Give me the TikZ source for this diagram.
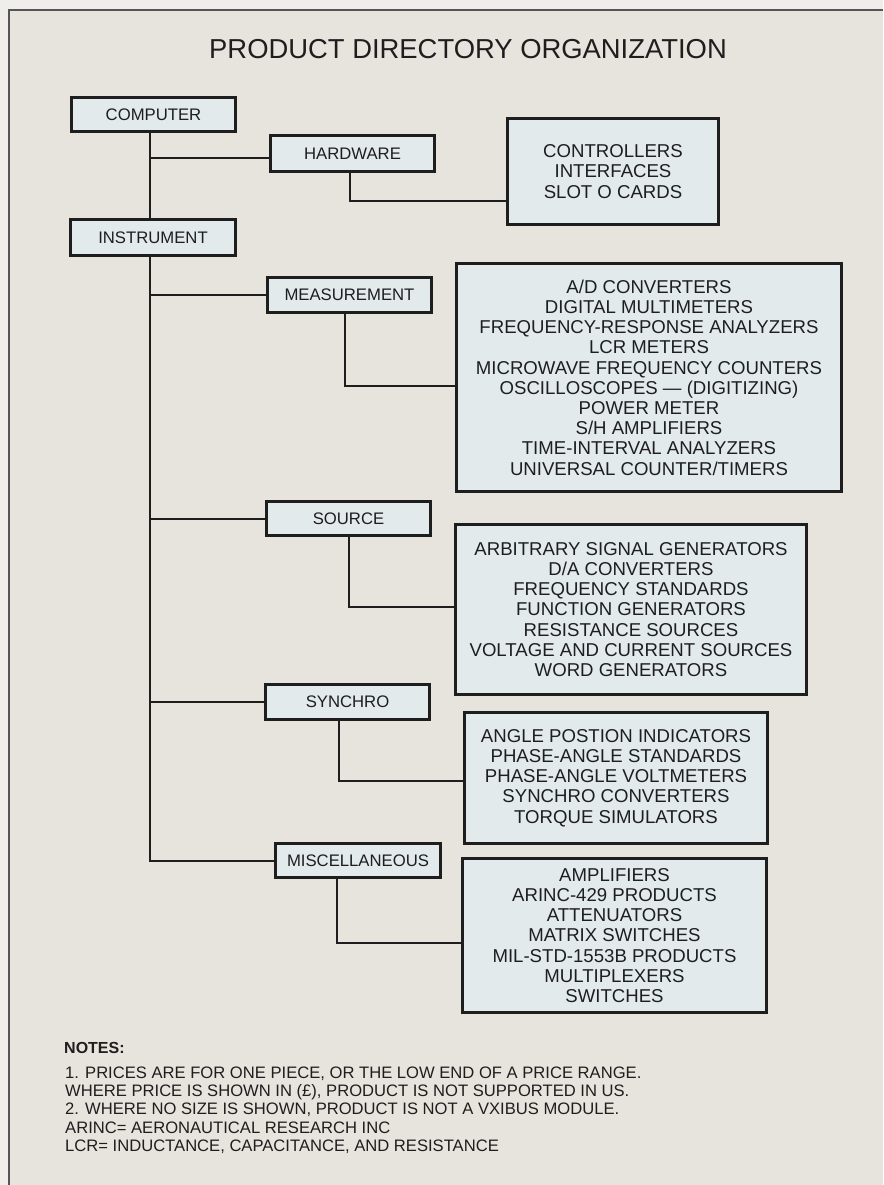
\documentclass[tikz,border=0pt]{standalone}
\usepackage{fontspec}
\setmainfont{Liberation Sans}
\definecolor{pagebg}{HTML}{F0EEEA}
\definecolor{panelbg}{HTML}{E7E4DE}
\definecolor{boxfill}{HTML}{E3EAEC}
\definecolor{ink}{HTML}{1E1E1E}
\definecolor{framec}{HTML}{555555}
\begin{document}
\begin{tikzpicture}[x=1pt,y=-1pt,
  cat/.style={draw=ink, line width=3.2pt, fill=boxfill, minimum width=164pt, minimum height=35pt, inner sep=0pt, font=\fontsize{16.7}{18}\selectfont, text=ink},
  list/.style={draw=ink, line width=3.2pt, fill=boxfill, inner sep=0pt, align=center, font=\fontsize{18.6}{20.2}\selectfont, text=ink},
  link/.style={draw=ink, line width=2pt},
  note/.style={anchor=base west, inner sep=0pt, text=ink, font=\fontsize{16.6}{18}\selectfont}]
\useasboundingbox (0,0) rectangle (883,1185);
\fill[pagebg] (0,0) rectangle (883,1185);
\fill[panelbg] (9,10) rectangle (883,1185);
\draw[framec, line width=1.6pt] (9,1185) -- (9,10) -- (883,10);

\node[text=ink, font=\fontsize{27.4}{30}\selectfont] (title) at (468,49.5) {PRODUCT DIRECTORY ORGANIZATION};

% category boxes
\node[cat, minimum height=34pt] (comp) at (153.5,114.5) {COMPUTER};
\node[cat, minimum height=36pt] (hw) at (352.5,153.5) {HARDWARE};
\node[cat, minimum width=165pt, minimum height=36pt] (inst) at (153,237.5) {INSTRUMENT};
\node[cat] (meas) at (349.5,295) {MEASUREMENT};
\node[cat, minimum height=34pt] (src) at (348.5,518.5) {SOURCE};
\node[cat] (syn) at (347.5,702) {SYNCHRO};
\node[cat, minimum width=165pt, minimum height=34pt] (misc) at (358,860.5) {MISCELLANEOUS};

% list boxes
\node[list, minimum width=211pt, minimum height=106pt] (hwlist) at (613,171.5)
  {CONTROLLERS\\INTERFACES\\SLOT O CARDS};
\node[list, minimum width=385pt, minimum height=228pt] (measlist) at (649,377.5)
  {A/D CONVERTERS\\DIGITAL MULTIMETERS\\FREQUENCY-RESPONSE ANALYZERS\\LCR METERS\\MICROWAVE FREQUENCY COUNTERS\\OSCILLOSCOPES — (DIGITIZING)\\POWER METER\\S/H AMPLIFIERS\\TIME-INTERVAL ANALYZERS\\UNIVERSAL COUNTER/TIMERS};
\node[list, minimum width=351pt, minimum height=170pt] (srclist) at (631,609.5)
  {ARBITRARY SIGNAL GENERATORS\\D/A CONVERTERS\\FREQUENCY STANDARDS\\FUNCTION GENERATORS\\RESISTANCE SOURCES\\VOLTAGE AND CURRENT SOURCES\\WORD GENERATORS};
\node[list, minimum width=303pt, minimum height=131pt] (synlist) at (616,778)
  {ANGLE POSTION INDICATORS\\PHASE-ANGLE STANDARDS\\PHASE-ANGLE VOLTMETERS\\SYNCHRO CONVERTERS\\TORQUE SIMULATORS};
\node[list, minimum width=304pt, minimum height=154pt] (misclist) at (614.5,935.5)
  {AMPLIFIERS\\ARINC-429 PRODUCTS\\ATTENUATORS\\MATRIX SWITCHES\\MIL-STD-1553B PRODUCTS\\MULTIPLEXERS\\SWITCHES};

% trunk
\draw[link] ([xshift=-3.5pt]comp.south) -- ([xshift=-3.5pt]comp.south |- inst.north);
\draw[link] ([xshift=-3pt]inst.south) |- (misc.west);
\draw[link] ([xshift=-3.5pt,yshift=-4.5pt]comp.south |- hw.west) -- ([yshift=-4.5pt]hw.west);
\draw[link] ([xshift=-3pt]inst.south |- meas.west) -- (meas.west);
\draw[link] ([xshift=-3pt]inst.south |- src.west) -- (src.west);
\draw[link] ([xshift=-3pt]inst.south |- syn.west) -- (syn.west);

% branches to lists
\draw[link] ([xshift=-2.5pt]hw.south) |- ([yshift=-29.5pt]hwlist.west);
\draw[link] ([xshift=-4.5pt]meas.south) |- ([yshift=-8.5pt]measlist.west);
\draw[link] (src.south) |- ([yshift=2.5pt]srclist.west);
\draw[link] ([xshift=-8.5pt]syn.south) |- ([yshift=-3pt]synlist.west);
\draw[link] ([xshift=-21pt]misc.south) |- ([yshift=-7.5pt]misclist.west);

% notes
\node[note, font=\fontsize{16}{18}\selectfont\bfseries] (nt) at (64,1053) {NOTES:};
\node[note] (n1) at (65,1078) {1. PRICES ARE FOR ONE PIECE, OR THE LOW END OF A PRICE RANGE.};
\node[note] (n2) at (65,1096) {WHERE PRICE IS SHOWN IN (£), PRODUCT IS NOT SUPPORTED IN US.};
\node[note] (n3) at (65,1114) {2. WHERE NO SIZE IS SHOWN, PRODUCT IS NOT A VXIBUS MODULE.};
\node[note] (n4) at (65,1133) {ARINC= AERONAUTICAL RESEARCH INC};
\node[note] (n5) at (65,1151) {LCR= INDUCTANCE, CAPACITANCE, AND RESISTANCE};
\end{tikzpicture}
\end{document}
